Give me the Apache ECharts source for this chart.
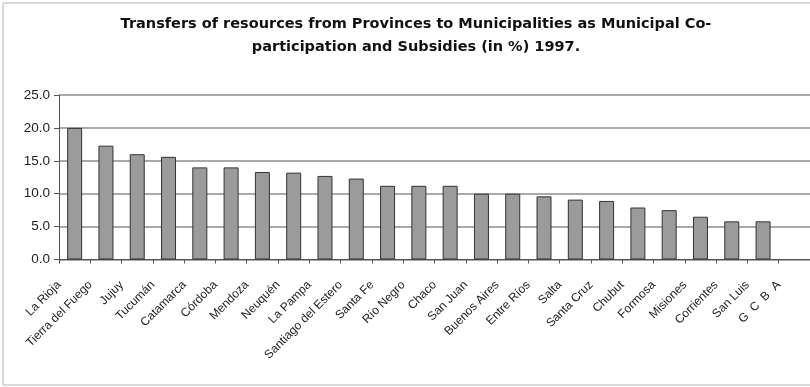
<!DOCTYPE html>
<html>
<head>
<meta charset="utf-8">
<script src="https://cdn.jsdelivr.net/npm/echarts@6/dist/echarts.min.js"></script>
<style>
html,body{margin:0;padding:0;background:#fff;}
#c{width:810px;height:387px;}
</style>
</head>
<body>
<div id="c"></div>
<script>
var titleText = "Transfers of resources from Provinces to Municipalities as Municipal Co-\nparticipation and Subsidies (in %) 1997.";
var categories = ["La Rioja","Tierra del Fuego","Jujuy","Tucumán","Catamarca","Córdoba","Mendoza","Neuquén","La Pampa","Santiago del Estero","Santa Fe","Río Negro","Chaco","San Juan","Buenos Aires","Entre Ríos","Salta","Santa Cruz","Chubut","Formosa","Misiones","Corrientes","San Luis","G  C  B  A"];
var values = [20.0,17.3,16.0,15.6,14.0,14.0,13.3,13.2,12.7,12.3,11.2,11.2,11.2,10.0,10.0,9.6,9.1,8.9,7.9,7.5,6.5,5.8,5.8,null];
var yTicks = [0,5,10,15,20,25];

var chart = echarts.init(document.getElementById('c'));
chart.setOption({
  animation:false,
  backgroundColor:'#fff',
  title:{
    text:titleText,
    left:411,
    textAlign:'center',
    top:8,
    textStyle:{fontFamily:'DejaVu Sans',fontWeight:'bold',fontSize:14.5,color:'#111',lineHeight:23}
  },
  graphic:[{type:'rect',shape:{x:3,y:3,width:830,height:382},style:{fill:'none',stroke:'#b5b5b5',lineWidth:1},silent:true}],
  grid:{left:59,right:-2.3,top:95,bottom:127.5,containLabel:false},
  xAxis:{
    type:'category',
    data:categories,
    boundaryGap:true,
    axisLine:{show:true,lineStyle:{color:'#555',width:1}},
    axisTick:{show:true,interval:0,length:4,lineStyle:{color:'#555'}},
    axisLabel:{interval:0,rotate:45,margin:8,padding:[0,22,0,0],fontFamily:'Liberation Sans',fontSize:12,color:'#222'}
  },
  yAxis:{
    type:'value',
    min:yTicks[0],max:yTicks[yTicks.length-1],interval:5,
    axisLine:{show:true,lineStyle:{color:'#555',width:1}},
    axisTick:{show:true,length:5,lineStyle:{color:'#555'}},
    axisLabel:{margin:9,formatter:function(v){return v.toFixed(1);},fontFamily:'Liberation Sans',fontSize:13.5,color:'#222'},
    splitLine:{show:true,lineStyle:{color:'#8e8e8e',width:1.5}}
  },
  series:[{
    type:'bar',
    data:values,
    barWidth:15,
    itemStyle:{color:'#9b9b9b',borderColor:'#333',borderWidth:1}
  }]
});
</script>
</body>
</html>
